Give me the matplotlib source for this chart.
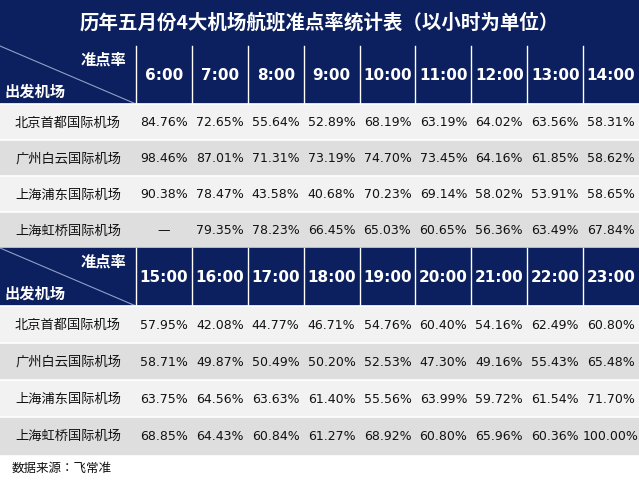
import matplotlib.pyplot as plt
from matplotlib.patches import Rectangle

plt.rcParams['font.family'] = 'sans-serif'
plt.rcParams['font.sans-serif'] = ['Noto Sans CJK SC', 'Noto Sans CJK JP', 'Noto Sans CJK TC',
                                   'Noto Sans CJK KR', 'DejaVu Sans']

title = "历年五月份4大机场航班准点率统计表（以小时为单位）"
airports = ["北京首都国际机场", "广州白云国际机场", "上海浦东国际机场", "上海虹桥国际机场"]
hours_a = ["6:00", "7:00", "8:00", "9:00", "10:00", "11:00", "12:00", "13:00", "14:00"]
hours_b = ["15:00", "16:00", "17:00", "18:00", "19:00", "20:00", "21:00", "22:00", "23:00"]
vals_a = [
    ["84.76%", "72.65%", "55.64%", "52.89%", "68.19%", "63.19%", "64.02%", "63.56%", "58.31%"],
    ["98.46%", "87.01%", "71.31%", "73.19%", "74.70%", "73.45%", "64.16%", "61.85%", "58.62%"],
    ["90.38%", "78.47%", "43.58%", "40.68%", "70.23%", "69.14%", "58.02%", "53.91%", "58.65%"],
    ["—", "79.35%", "78.23%", "66.45%", "65.03%", "60.65%", "56.36%", "63.49%", "67.84%"],
]
vals_b = [
    ["57.95%", "42.08%", "44.77%", "46.71%", "54.76%", "60.40%", "54.16%", "62.49%", "60.80%"],
    ["58.71%", "49.87%", "50.49%", "50.20%", "52.53%", "47.30%", "49.16%", "55.43%", "65.48%"],
    ["63.75%", "64.56%", "63.63%", "61.40%", "55.56%", "63.99%", "59.72%", "61.54%", "71.70%"],
    ["68.85%", "64.43%", "60.84%", "61.27%", "68.92%", "60.80%", "65.96%", "60.36%", "100.00%"],
]
source = "数据来源：飞常准"

W, H = 639, 485
navy = "#0c1f5e"
row_bg = ["#f2f2f2", "#dedede"]

fig = plt.figure(figsize=(W / 100, H / 100), dpi=100)
ax = fig.add_axes([0, 0, 1, 1])
ax.set_xlim(0, W)
ax.set_ylim(H, 0)
ax.axis("off")

ax.add_patch(Rectangle((0, 0), W, 46, color=navy))
ax.text(W / 2, 23, title, color="white", fontsize=14, fontweight="bold", ha="center", va="center")

first_w = 136
col_w = (W - first_w) / 9


def draw_block(y0, head_h, row_h, hours, vals):
    ax.add_patch(Rectangle((0, y0), W, head_h, color=navy))
    ax.plot([0, first_w], [y0, y0 + head_h], color="#8fa0c8", lw=0.8)
    ax.text(first_w - 10, y0 + 13, "准点率", color="white", fontsize=11, fontweight="bold", ha="right", va="center")
    ax.text(4, y0 + head_h - 13, "出发机场", color="white", fontsize=11, fontweight="bold", ha="left", va="center")
    for j, h in enumerate(hours):
        x = first_w + j * col_w
        ax.plot([x, x], [y0, y0 + head_h], color="white", lw=1)
        ax.text(x + col_w / 2, y0 + head_h / 2, h, color="white", fontsize=11, fontweight="bold",
                ha="center", va="center", family="DejaVu Sans")
    for i, name in enumerate(airports):
        y = y0 + head_h + i * row_h
        ax.add_patch(Rectangle((0, y), W, row_h, color=row_bg[i % 2]))
        ax.plot([0, W], [y, y], color="white", lw=1.2)
        ax.text(first_w / 2, y + row_h / 2, name, fontsize=9.5, ha="center", va="center", color="#111111")
        for j, v in enumerate(vals[i]):
            ax.text(first_w + j * col_w + col_w / 2, y + row_h / 2, v, fontsize=9,
                    ha="center", va="center", color="#111111", family="DejaVu Sans")


draw_block(47, 58, 36, hours_a, vals_a)
draw_block(249, 58, 37, hours_b, vals_b)

ax.text(12, 468, source, fontsize=9, ha="left", va="center", color="#111111")

fig.savefig("out.png", dpi=100)
